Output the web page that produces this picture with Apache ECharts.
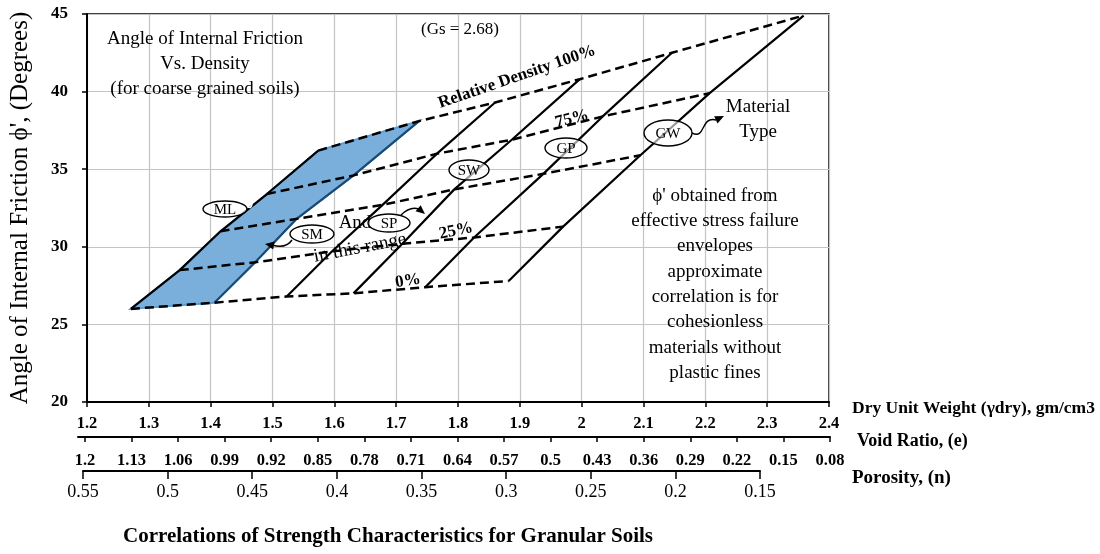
<!DOCTYPE html>
<html>
<head>
<meta charset="utf-8">
<script src="https://cdn.jsdelivr.net/npm/echarts@6/dist/echarts.min.js"></script>
<style>
  html,body{margin:0;padding:0;background:#fff;}
  #chart{width:1100px;height:554px;}
</style>
</head>
<body>
<div id="chart"></div>
<script>
// friction angle (deg) vs dry unit weight, points at relative density 0,25,50,75,100 %
const densityLevels = ['0%', '25%', '50%', '75%', '100%'];
const lineML = [[1.271, 26.0], [1.350, 28.5], [1.416, 31.0], [1.491, 33.4], [1.574, 36.2]];
const lineSM = [[1.406, 26.4], [1.472, 29.0], [1.539, 31.8], [1.631, 34.6], [1.737, 38.1]];
const lineSP = [[1.523, 26.8], [1.596, 29.7], [1.678, 32.7], [1.766, 36.0], [1.860, 39.3]];
const lineSW = [[1.631, 27.0], [1.710, 30.2], [1.794, 33.7], [1.887, 36.9], [1.997, 40.8]];
const lineGP = [[1.747, 27.4], [1.826, 30.6], [1.938, 34.7], [2.034, 38.4], [2.146, 42.5]];
const lineGW = [[1.882, 27.8], [1.970, 31.3], [2.095, 35.9], [2.207, 39.9], [2.359, 44.9]];

const voidRatioTicks = [1.2, 1.13, 1.06, 0.99, 0.92, 0.85, 0.78, 0.71, 0.64, 0.57, 0.5, 0.43, 0.36, 0.29, 0.22, 0.15, 0.08];
const porosityTicks = [0.55, 0.5, 0.45, 0.4, 0.35, 0.3, 0.25, 0.2, 0.15];

const serif = '"Liberation Serif", "Times New Roman", serif';
const materialLines = [lineML, lineSM, lineSP, lineSW, lineGP, lineGW];

const chart = echarts.init(document.getElementById('chart'));

function txt(x, y, text, size, opts) {
    opts = opts || {};
    return {
        type: 'text', x: x, y: y, z: 100,
        rotation: (opts.rot || 0) * Math.PI / 180,
        style: {
            text: text,
            font: (opts.bold ? 'bold ' : '') + size + 'px ' + serif,
            fill: '#000',
            align: opts.align || 'center',
            verticalAlign: 'middle',
            textAlign: opts.align || 'center',
            textVerticalAlign: 'middle',
            shadowColor: opts.glow ? '#fff' : 'transparent',
            shadowBlur: opts.glow ? 4 : 0
        }
    };
}
function ell(cx, cy, rx, ry, label) {
    return [
        {type: 'ellipse', z: 100, shape: {cx: cx, cy: cy, rx: rx, ry: ry},
         style: {fill: 'rgba(255,255,255,0.6)', stroke: '#000', lineWidth: 1.4}},
        txt(cx, cy + 1, label, 15)
    ];
}
function head(x, y, ang) {
    const a = ang * Math.PI / 180, L = 9, W = 4;
    const bx = x - L * Math.cos(a), by = y - L * Math.sin(a);
    return {type: 'polygon', z: 100, shape: {points: [[x, y],
        [bx + W * Math.sin(a), by - W * Math.cos(a)],
        [bx - W * Math.sin(a), by + W * Math.cos(a)]]}, style: {fill: '#000'}};
}

const solidSeries = materialLines.map((pts, i) => ({
    type: 'line', data: pts, symbol: 'none', z: 3, silent: true,
    lineStyle: {color: i === 1 ? '#1b4a75' : '#000', width: 2.2, type: 'solid'}
}));
const dashedSeries = densityLevels.map((d, k) => ({
    type: 'line', name: d, data: materialLines.map(l => l[k]), symbol: 'none', z: 3, silent: true,
    lineStyle: {color: '#000', width: 2.5, type: [9, 5]}
}));

const option = {
    animation: false,
    grid: [
        {left: 78, top: 14, width: 751, height: 388, show: true, borderColor: '#000', borderWidth: 1.5},
        {left: 78, top: 436, width: 752, height: 1},
        {left: 83, top: 470, width: 677, height: 1}
    ],
    xAxis: [
        {
            type: 'value', gridIndex: 0, min: 1.2, max: 2.4, interval: 0.1,
            axisLine: {lineStyle: {color: '#000', width: 2}},
            axisTick: {show: true, length: 5, lineStyle: {color: '#000', width: 1.5}},
            axisLabel: {color: '#000', fontFamily: serif, fontWeight: 'bold', fontSize: 16.5, margin: 13},
            splitLine: {show: true, lineStyle: {color: '#c4c4c4', width: 1.2}}
        },
        {
            type: 'value', gridIndex: 1, inverse: true, min: 0.08, max: 1.2105,
            axisLine: {lineStyle: {color: '#000', width: 2}},
            axisTick: {show: true, length: 5, customValues: voidRatioTicks, lineStyle: {color: '#000', width: 1.5}},
            axisLabel: {color: '#000', fontFamily: serif, fontWeight: 'bold', fontSize: 16.5, margin: 15,
                        customValues: voidRatioTicks, showMinLabel: true, showMaxLabel: true},
            splitLine: {show: false}
        },
        {
            type: 'value', gridIndex: 2, inverse: true, min: 0.15, max: 0.55,
            axisLine: {lineStyle: {color: '#000', width: 2}},
            axisTick: {show: true, length: 8, customValues: porosityTicks, lineStyle: {color: '#000', width: 1.5}},
            axisLabel: {color: '#000', fontFamily: serif, fontSize: 18, margin: 12,
                        customValues: porosityTicks, showMinLabel: true, showMaxLabel: true},
            splitLine: {show: false}
        }
    ],
    yAxis: [
        {
            type: 'value', gridIndex: 0, min: 20, max: 45, interval: 5,
            name: "Angle of Internal Friction \u03d5', (Degrees)",
            nameLocation: 'middle', nameGap: 54,
            nameTextStyle: {color: '#000', fontFamily: serif, fontSize: 25},
            axisLine: {show: true, lineStyle: {color: '#000', width: 2}},
            axisTick: {show: true, length: 5, lineStyle: {color: '#000', width: 1.5}},
            axisLabel: {color: '#000', fontFamily: serif, fontWeight: 'bold', fontSize: 17, margin: 19},
            splitLine: {show: true, lineStyle: {color: '#c4c4c4', width: 1.2}}
        },
        {type: 'value', gridIndex: 1, show: false},
        {type: 'value', gridIndex: 2, show: false}
    ],
    series: [
        {
            type: 'custom', xAxisIndex: 0, yAxisIndex: 0, z: 1, silent: true,
            data: [[1.5, 30]],
            renderItem: function (params, api) {
                const pts = lineML.concat(lineSM.slice().reverse()).map(p => api.coord(p));
                return {type: 'polygon', shape: {points: pts},
                        style: {fill: '#7aafdc', stroke: '#5b9bd5', lineWidth: 2}};
            }
        }
    ].concat(solidSeries, dashedSeries),
    graphic: [
        txt(205, 39, 'Angle of Internal Friction', 19, {glow: true}),
        txt(205, 64, 'Vs. Density', 19, {glow: true}),
        txt(205, 89, '(for coarse grained soils)', 19, {glow: true}),
        txt(460, 30, '(Gs = 2.68)', 17, {glow: true}),
        txt(517, 77, 'Relative Density 100%', 17, {bold: true, rot: 19, glow: true}),
        txt(572, 119, '75%', 17, {bold: true, rot: 14, glow: true}),
        txt(456, 231, '25%', 17, {bold: true, rot: 12, glow: true}),
        txt(408, 281, '0%', 17, {bold: true, rot: 9, glow: true}),
        txt(355, 223, 'And', 19, {glow: true}),
        txt(360, 248, 'in this range', 19, {rot: 11, glow: true}),
        txt(758, 107, 'Material', 19, {glow: true}),
        txt(758, 132, 'Type', 19, {glow: true}),
        txt(715, 196, "\u03d5' obtained from", 19, {glow: true}),
        txt(715, 221, 'effective stress failure', 19, {glow: true}),
        txt(715, 246, 'envelopes', 19, {glow: true}),
        txt(715, 272, 'approximate', 19, {glow: true}),
        txt(715, 297, 'correlation is for', 19, {glow: true}),
        txt(715, 322, 'cohesionless', 19, {glow: true}),
        txt(715, 348, 'materials without', 19, {glow: true}),
        txt(715, 373, 'plastic fines', 19, {glow: true}),
        txt(852, 408, 'Dry Unit Weight (\u03b3dry), gm/cm3', 17.5, {bold: true, align: 'left'}),
        txt(857, 441, 'Void Ratio, (e)', 18, {bold: true, align: 'left'}),
        txt(852, 478, 'Porosity, (n)', 19, {bold: true, align: 'left'}),
        txt(388, 537, 'Correlations of Strength Characteristics for Granular Soils', 21, {bold: true}),
        // connector arrows
        {type: 'bezierCurve', z: 100, shape: {x1: 292, y1: 240, cpx1: 286, cpy1: 249, x2: 272, y2: 245},
         style: {stroke: '#000', lineWidth: 1.4, fill: 'none'}},
        head(265, 244, 190),
        {type: 'bezierCurve', z: 100, shape: {x1: 401, y1: 215, cpx1: 410, cpy1: 206, x2: 419, y2: 209},
         style: {stroke: '#000', lineWidth: 1.4, fill: 'none'}},
        head(425, 214, 40),
        {type: 'bezierCurve', z: 100, shape: {x1: 692, y1: 133, cpx1: 706, cpy1: 140, cpx2: 700, cpy2: 116, x2: 716, y2: 120},
         style: {stroke: '#000', lineWidth: 1.4, fill: 'none'}},
        head(724, 116, -25),
        {type: 'bezierCurve', z: 100, shape: {x1: 246, y1: 206, cpx1: 252, cpy1: 210, x2: 252, y2: 203},
         style: {stroke: '#fff', lineWidth: 1.4, fill: 'none'}}
    ].concat(
        ell(225, 209, 22, 8, 'ML'),
        ell(312, 234, 22, 9, 'SM'),
        ell(389, 223, 21, 9, 'SP'),
        ell(469, 170, 20, 10, 'SW'),
        ell(566, 148, 21, 10, 'GP'),
        ell(668, 133, 24, 13, 'GW')
    )
};
chart.setOption(option);
</script>
</body>
</html>
